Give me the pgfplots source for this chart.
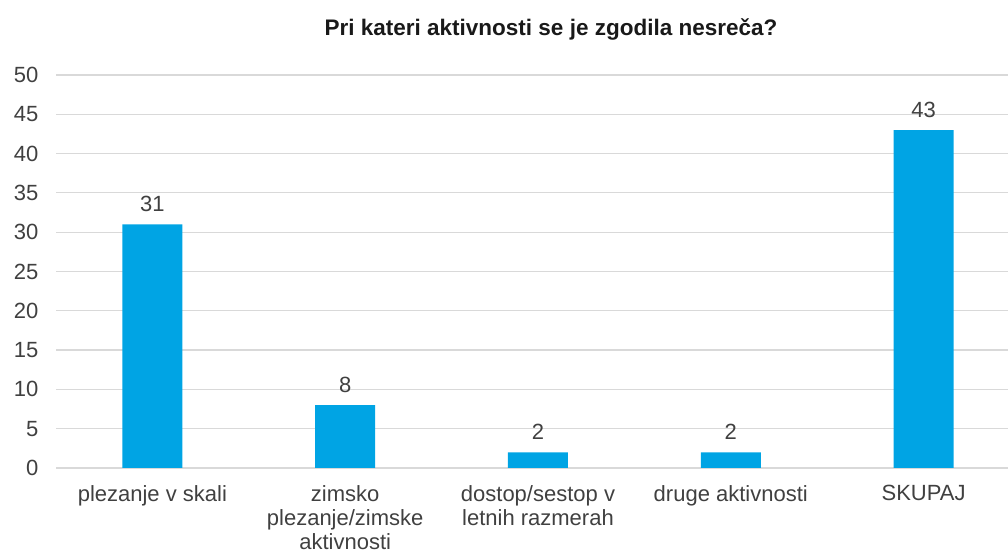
\documentclass[border=0pt]{standalone}
\usepackage{pgfplots}
\pgfplotsset{compat=1.18}
\usepackage{fontspec}
\setmainfont{Liberation Sans}
\definecolor{barblue}{RGB}{0,164,228}
\definecolor{gridgray}{RGB}{217,217,217}
\definecolor{labgray}{RGB}{64,64,64}
\begin{document}
\begin{tikzpicture}
\path[use as bounding box] (0,0) rectangle (1008pt,556pt);
\begin{axis}[
  at={(56pt,88pt)}, anchor=south west,
  width=952pt, height=393pt, scale only axis,
  xmin=-0.5, xmax=4.438, ymin=0, ymax=50,
  ytick={0,5,...,50},
  xtick={0,1,2,3,4},
  xticklabels={plezanje v skali,{zimsko\\plezanje/zimske\\aktivnosti},{dostop/sestop v\\letnih razmerah},druge aktivnosti,SKUPAJ},
  axis line style={draw=none},
  major tick length=0pt,
  ymajorgrids, grid style={gridgray, line width=1.2pt},
  /pgf/number format/assume math mode=true,
  tick label style={font=\fontsize{22}{24}\selectfont, text=labgray},
  yticklabel style={xshift=-14pt},
  xticklabel style={align=center, yshift=-14pt},
  ybar, bar width=60pt,
  nodes near coords,
  every node near coord/.append style={font=\fontsize{22}{24}\selectfont, text=labgray, yshift=9pt},
  clip=false,
]
\addplot[fill=barblue, draw=none] coordinates {(0,31) (1,8) (2,2) (3,2) (4,43)};
\end{axis}
\node[font=\bfseries\fontsize{22.5}{26}\selectfont, text=black!90] at (551pt,527pt) {Pri kateri aktivnosti se je zgodila nesreča?};
\end{tikzpicture}
\end{document}
